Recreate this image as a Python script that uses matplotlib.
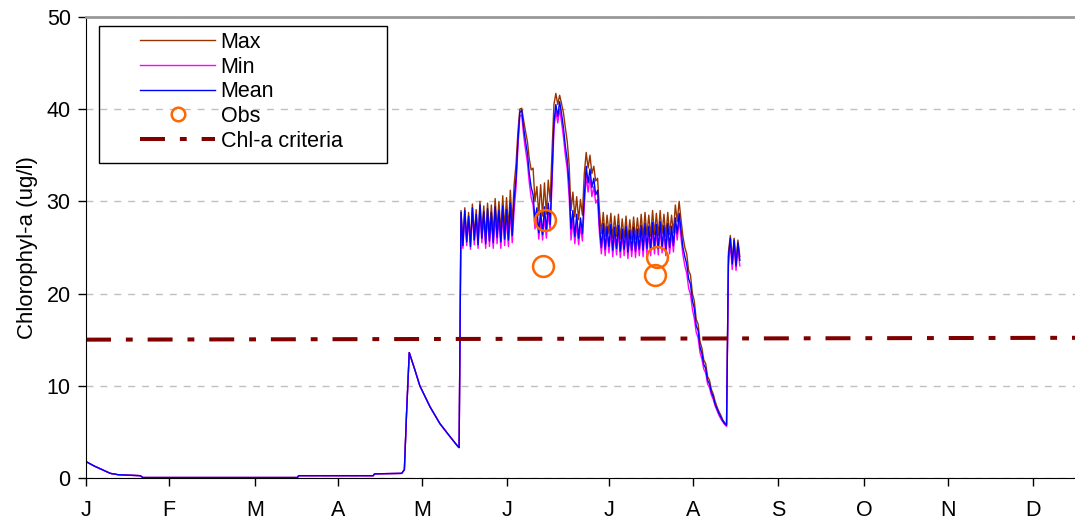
# -*- coding: utf-8 -*-

### Chlorophyll-a time series: model max / min / mean vs observations ###

import numpy as np
import matplotlib.pyplot as plt
from matplotlib.patches import Rectangle

plt.rcParams['font.family'] = ['Liberation Sans', 'DejaVu Sans']
font_size = 15.5

## Data ##

# quiet period (Jan - mid May), all three series overlap
low_days = [0.5, 3, 6, 9, 12, 20, 21, 78, 78.5, 106, 106.5, 116.5, 117.5, 118.3,
            119.3, 120.2, 121.4, 123.2, 125, 127, 130.6, 134.3, 137.3, 137.7]
low_vals = [1.7, 1.3, 0.9, 0.5, 0.35, 0.25, 0.05, 0.05, 0.25, 0.25, 0.45, 0.5, 0.9, 7.0,
            13.6, 12.8, 11.7, 10.0, 8.9, 7.7, 5.9, 4.5, 3.4, 3.3]

# bloom period, sampled every 0.7 day from day 138.4
bloom_start = 138.4
bloom_step = 0.7

mean_vals = [
    28.8, 25.2, 29.0, 25.6, 28.4, 25.1, 29.3, 25.8, 28.6, 25.3,
    29.6, 26.0, 28.9, 25.4, 29.2, 25.7, 28.8, 25.5, 29.4, 26.1,
    29.0, 25.6, 29.5, 25.9, 29.1, 25.8, 29.8, 26.3, 30.2, 32.5,
    36.5, 39.6, 39.9, 38.0, 36.5, 35.2, 33.0, 31.5, 30.7, 28.0,
    29.3, 26.6, 29.0, 26.4, 29.4, 26.8, 29.8, 27.5, 33.0, 38.5,
    40.5, 39.2, 40.8, 39.5, 38.0, 36.0, 34.5, 31.8, 27.0, 29.0,
    26.2, 28.6, 26.0, 28.2, 26.5, 30.5, 33.8, 32.0, 33.5, 31.5,
    32.5, 30.7, 31.2, 27.4, 25.0, 27.6, 24.8, 27.3, 25.1, 27.5,
    24.7, 27.2, 24.9, 27.4, 24.6, 27.0, 24.8, 27.3, 24.5, 26.9,
    24.7, 27.2, 24.6, 27.0, 24.8, 27.4, 24.7, 27.6, 24.9, 27.3,
    24.8, 27.7, 25.0, 27.5, 24.9, 27.8, 25.1, 27.4, 24.8, 27.6,
    25.0, 27.3, 25.2, 28.2, 26.5, 28.7, 26.8, 25.0, 24.0, 23.2,
    21.6, 21.0, 19.2, 18.4, 16.5, 16.0, 14.2, 13.5, 12.3, 11.9,
    10.6, 10.2, 9.3, 8.8, 8.0, 7.5, 7.0, 6.6, 6.2, 5.9,
    5.7, 24.0, 26.0, 23.2, 25.8, 23.0, 25.5, 23.6]

max_vals = [
    29.0, 25.6, 29.3, 26.0, 28.8, 25.6, 29.7, 26.3, 29.1, 25.9,
    30.0, 26.6, 29.5, 26.0, 29.8, 26.4, 29.6, 26.3, 30.3, 27.0,
    30.0, 26.6, 30.6, 27.0, 30.4, 27.0, 31.2, 27.6, 31.8, 34.0,
    37.5, 40.0, 40.1, 38.8, 37.6, 36.5, 34.6, 33.4, 33.6, 30.0,
    31.6, 28.5, 31.8, 28.4, 32.0, 28.6, 32.3, 30.0, 35.5, 40.5,
    41.7, 40.5, 41.5, 40.6, 39.6, 38.0, 36.5, 34.0, 29.0, 31.0,
    28.3, 30.5, 28.0, 30.2, 28.5, 33.0, 35.3, 33.6, 35.0, 33.0,
    33.8, 32.2, 32.5, 29.0, 26.5, 28.8, 26.2, 28.5, 26.5, 28.7,
    26.0, 28.4, 26.2, 28.6, 25.9, 28.1, 26.0, 28.4, 25.8, 28.0,
    25.9, 28.3, 25.9, 28.2, 26.1, 28.6, 26.0, 28.8, 26.3, 28.5,
    26.2, 29.0, 26.4, 28.7, 26.3, 29.0, 26.5, 28.6, 26.2, 28.8,
    26.4, 28.5, 26.6, 29.6, 27.8, 30.0, 28.0, 26.2, 25.0, 24.3,
    22.5, 22.0, 20.0, 19.2, 17.2, 16.7, 14.8, 14.1, 12.8, 12.4,
    11.0, 10.6, 9.6, 9.1, 8.3, 7.7, 7.2, 6.8, 6.3, 6.0,
    5.8, 24.5, 26.3, 23.6, 26.0, 23.4, 25.8, 24.0]

min_vals = [
    28.3, 24.9, 28.6, 25.2, 28.0, 24.8, 28.8, 25.3, 28.1, 24.9,
    29.0, 25.5, 28.3, 24.9, 28.5, 25.1, 28.1, 24.9, 28.6, 25.4,
    28.2, 24.9, 28.6, 25.2, 28.2, 25.1, 28.8, 25.5, 29.0, 31.5,
    35.8, 39.2, 39.4, 37.2, 35.6, 34.2, 32.0, 30.4, 29.6, 27.0,
    28.4, 25.9, 28.0, 25.8, 28.4, 26.0, 28.8, 26.8, 32.0, 37.8,
    39.8, 38.5, 40.0, 38.6, 37.0, 35.0, 33.5, 30.5, 25.8, 28.0,
    25.4, 27.6, 25.3, 27.3, 25.7, 29.5, 32.8, 31.0, 32.6, 30.5,
    31.6, 29.8, 30.2, 26.5, 24.3, 26.9, 24.1, 26.6, 24.4, 26.8,
    24.0, 26.5, 24.2, 26.7, 23.9, 26.3, 24.1, 26.6, 23.8, 26.2,
    24.0, 26.5, 23.9, 26.3, 24.1, 26.7, 24.0, 26.9, 24.2, 26.6,
    24.1, 27.0, 24.3, 26.8, 24.2, 27.1, 24.4, 26.7, 24.1, 26.9,
    24.3, 26.6, 24.5, 27.5, 25.8, 28.0, 26.0, 24.2, 23.0, 22.2,
    20.6, 19.9, 18.3, 17.3, 15.8, 15.2, 13.6, 12.9, 11.8, 11.4,
    10.2, 9.8, 9.0, 8.5, 7.8, 7.3, 6.8, 6.4, 6.1, 5.8,
    5.6, 23.0, 25.5, 22.6, 25.2, 22.5, 24.9, 23.0]

# observations
obs_days = [168.7, 169.4, 210.1, 210.6]
obs_vals = [23.0, 28.0, 22.0, 24.0]

# criteria line
crit_days = [0, 365]
crit_vals = [15.0, 15.2]

month_labels = ['J', 'F', 'M', 'A', 'M', 'J', 'J', 'A', 'S', 'O', 'N', 'D']
month_ticks = [0, 30.6, 62.4, 93.0, 124.0, 155.4, 193.0, 224.0, 255.4, 287.1, 318.1, 349.4]

## Build series ##

bloom_days = bloom_start + bloom_step*np.arange(len(mean_vals))
days = np.concatenate([low_days, bloom_days])
s_mean = np.concatenate([low_vals, mean_vals])
s_max = np.concatenate([low_vals, max_vals])
s_min = np.concatenate([low_vals, min_vals])

## Plot ##

fig = plt.figure(figsize=(10.75, 5.27), dpi=100)
ax = fig.add_axes([0.08, 0.093, 0.92, 0.875])

ax.plot(days, s_max, color='#993300', lw=1, label='Max')
ax.plot(days, s_min, color='#FF00FF', lw=1, label='Min')
ax.plot(days, s_mean, color='#0000FF', lw=1, label='Mean')
ax.plot(obs_days, obs_vals, 'o', ms=15, mfc='none', mec='#FF6600', mew=1.8, label='Obs')
ax.plot(crit_days, crit_vals, color='#800000', lw=2.9,
        linestyle=(0, (6.2, 3.7, 1.7, 3.7)), label='Chl-a criteria')

ax.set_xlim(0, 365)
ax.set_ylim(0, 50)
ax.set_yticks([0, 10, 20, 30, 40, 50])
ax.set_xticks(month_ticks)
ax.set_xticklabels(month_labels)
ax.tick_params(labelsize=font_size, direction='out', length=6, width=1)
ax.tick_params(axis='x', pad=10)
ax.tick_params(axis='y', pad=5)
ax.yaxis.grid(True, color='#c0c0c0', linestyle=(0, (5, 5)), lw=1)
ax.set_axisbelow(True)
ax.set_ylabel('Chlorophyl-a (ug/l)', fontsize=16, labelpad=6)

ax.spines['right'].set_visible(False)
ax.spines['top'].set_color('#999999')
ax.spines['top'].set_linewidth(2)

# legend without frame, frame drawn as a rectangle to match the wide box
leg = ax.legend(loc='upper left', bbox_to_anchor=(140/1075, 1-32/527),
                bbox_transform=fig.transFigure, frameon=False, fontsize=font_size,
                borderpad=0, labelspacing=0.17, handlelength=3.5, handletextpad=0.25,
                borderaxespad=0, markerscale=0.65)
fig.patches.append(Rectangle((99/1075, 1-163/527), 288/1075, 137/527,
                             transform=fig.transFigure, fill=False,
                             edgecolor='black', lw=1, zorder=5))

plt.savefig('out.png', dpi=100)
